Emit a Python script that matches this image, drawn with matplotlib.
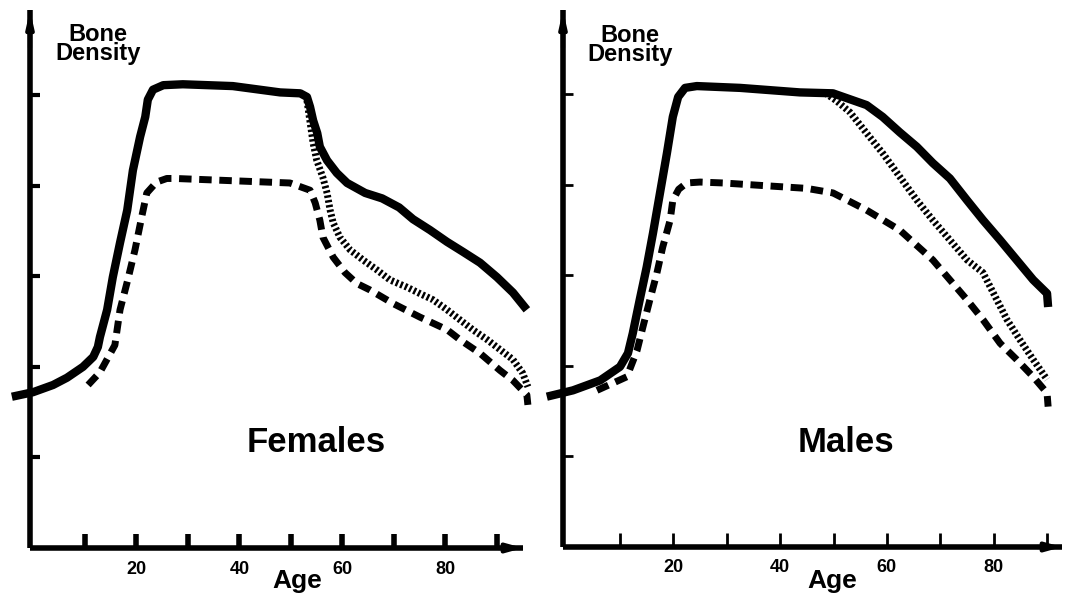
import matplotlib
matplotlib.use('Agg')
import matplotlib.pyplot as plt

plt.rcParams['font.family'] = ['Liberation Sans', 'DejaVu Sans']

# ---------------- data (age in years, bone density in tick units) ----------------
tick_ages = [10, 20, 30, 40, 50, 60, 70, 80, 90]
tick_labels = ['', '20', '', '40', '', '60', '', '80', '']
density_ticks = [1, 2, 3, 4, 5]

# Females
f_solid_age = [-4.2, -0.1, 3.8, 6.5, 9.6, 11.6, 12.5, 12.9, 14.3, 15.4, 16.8, 18.2,
               19.3, 20.7, 21.7, 22.2, 23.2, 25.2, 29.0, 38.7, 47.9, 51.8, 53.1, 53.7,
               54.3, 55.1, 55.6, 57.0, 58.9, 60.9, 64.4, 67.7, 71.0, 73.7, 77.0, 80.3,
               83.4, 86.7, 90.0, 93.1, 95.8]
f_solid_val = [1.67, 1.72, 1.80, 1.88, 2.00, 2.11, 2.22, 2.33, 2.63, 2.99, 3.37, 3.73,
               4.17, 4.54, 4.76, 4.95, 5.06, 5.11, 5.12, 5.10, 5.03, 5.02, 4.98, 4.87,
               4.72, 4.58, 4.43, 4.28, 4.14, 4.03, 3.92, 3.86, 3.76, 3.63, 3.51, 3.38,
               3.27, 3.15, 2.99, 2.82, 2.63]

f_dash_age = [10.6, 12.9, 15.8, 16.8, 18.3, 19.7, 21.1, 22.0, 23.9, 25.9, 27.5, 49.8,
              53.7, 54.7, 55.6, 56.2, 58.2, 60.5, 62.8, 65.3, 69.8, 75.0, 80.3, 82.8,
              86.7, 90.6, 93.1, 95.8, 96.0]
f_dash_val = [1.80, 1.94, 2.24, 2.63, 2.96, 3.29, 3.68, 3.92, 4.04, 4.08, 4.08, 4.03,
              3.95, 3.81, 3.62, 3.43, 3.21, 3.04, 2.92, 2.85, 2.70, 2.55, 2.41, 2.30,
              2.15, 1.96, 1.85, 1.69, 1.58]

f_dot_age = [53.1, 54.3, 55.0, 56.2, 57.0, 57.6, 58.2, 59.5, 61.5, 64.0, 66.7, 69.2,
             72.5, 75.0, 77.6, 80.3, 82.8, 85.3, 88.1, 90.6, 93.1, 95.0, 96.0]
f_dot_val = [4.94, 4.47, 4.28, 4.09, 3.92, 3.73, 3.59, 3.43, 3.29, 3.18, 3.07, 2.96,
             2.88, 2.81, 2.74, 2.63, 2.52, 2.41, 2.30, 2.19, 2.08, 1.93, 1.78]

# Males
m_solid_age = [-3.7, 1.2, 6.3, 10.0, 11.5, 12.4, 13.7, 15.0, 16.2, 17.5, 18.8, 19.9,
               20.9, 22.2, 24.4, 32.5, 43.7, 49.9, 56.2, 59.2, 62.4, 65.6, 68.6, 71.8,
               75.0, 78.0, 81.2, 84.3, 87.4, 90.0, 90.2]
m_solid_val = [1.66, 1.73, 1.84, 1.99, 2.14, 2.36, 2.73, 3.09, 3.47, 3.91, 4.35, 4.75,
               4.97, 5.07, 5.09, 5.07, 5.02, 5.01, 4.88, 4.75, 4.58, 4.42, 4.24, 4.07,
               3.83, 3.61, 3.39, 3.17, 2.95, 2.80, 2.65]

m_dash_age = [5.7, 11.3, 13.2, 14.3, 15.6, 16.9, 18.0, 19.4, 19.9, 21.0, 22.5, 25.0,
              29.3, 45.0, 49.9, 56.2, 62.4, 68.6, 71.8, 75.0, 78.0, 81.2, 84.3, 87.4,
              90.0, 90.2]
m_dash_val = [1.73, 1.88, 2.17, 2.43, 2.73, 3.02, 3.31, 3.61, 3.83, 3.95, 4.02, 4.03,
              4.02, 3.96, 3.91, 3.72, 3.50, 3.17, 2.95, 2.73, 2.51, 2.25, 2.07, 1.88,
              1.70, 1.55]

m_dot_age = [48.5, 50.5, 53.1, 56.2, 59.2, 62.4, 65.6, 68.6, 71.8, 75.0, 78.0, 79.9,
             82.5, 84.9, 87.4, 90.0]
m_dot_val = [5.01, 4.93, 4.80, 4.57, 4.35, 4.09, 3.83, 3.61, 3.39, 3.17, 3.03, 2.81,
             2.51, 2.29, 2.07, 1.85]

panels = [
    dict(name='Females', solid=(f_solid_age, f_solid_val), dash=(f_dash_age, f_dash_val),
         dot=(f_dot_age, f_dot_val)),
    dict(name='Males', solid=(m_solid_age, m_solid_val), dash=(m_dash_age, m_dash_val),
         dot=(m_dot_age, m_dot_val)),
]

# ---------------- layout ----------------
W, H = 1077, 596
fig = plt.figure(figsize=(W / 100, H / 100), dpi=100)
fig.patch.set_facecolor('white')

geo = [
    dict(l=30, b=548, r=523, t=10, xlim=(-0.68, 95.05), ylim=(0, 5.94),
         tick_w=4, ytick_w=3, bd=(98, 44), name_xy=(316, 443), age_xy=(297, 581)),
    dict(l=563, b=547, r=1062, t=10, xlim=(-0.67, 92.8), ylim=(0, 5.93),
         tick_w=2, ytick_w=2, bd=(630, 45), name_xy=(846, 443), age_xy=(832, 581)),
]

for p, g in zip(panels, geo):
    ax = fig.add_axes([g['l'] / W, (H - g['b']) / H, (g['r'] - g['l']) / W,
                       (g['b'] - g['t']) / H])
    ax.set_facecolor('none')
    ax.set_xlim(*g['xlim'])
    ax.set_ylim(*g['ylim'])
    for s in ('top', 'right'):
        ax.spines[s].set_visible(False)
    for s in ('left', 'bottom'):
        ax.spines[s].set_linewidth(4)
        ax.spines[s].set_capstyle('butt')

    ax.set_xticks(tick_ages)
    ax.set_xticklabels(tick_labels, fontsize=13, fontweight='bold')
    ax.set_yticks(density_ticks)
    ax.set_yticklabels([])
    ax.tick_params(axis='x', direction='in', length=10, width=g['tick_w'], pad=9)
    ax.tick_params(axis='y', direction='in', length=7, width=g['ytick_w'])

    # arrow heads
    ax.annotate('', xy=(0, 1.0), xytext=(0, 0.93), xycoords='axes fraction',
                arrowprops=dict(arrowstyle='-|>,head_length=0.9,head_width=0.2',
                                color='black', lw=3, shrinkA=0, shrinkB=0))
    ax.annotate('', xy=(1.0, 0), xytext=(0.95, 0), xycoords='axes fraction',
                arrowprops=dict(arrowstyle='-|>,head_length=0.9,head_width=0.25',
                                color='black', lw=3, shrinkA=0, shrinkB=0))

    # curves
    ax.plot(*p['dash'], color='black', lw=5, linestyle=(0, (1.8, 1.1)),
            dash_capstyle='butt', dash_joinstyle='round', clip_on=False, zorder=3)
    ax.plot(*p['dot'], color='black', lw=5, linestyle=(0, (0.35, 0.35)),
            dash_capstyle='butt', dash_joinstyle='round', clip_on=False, zorder=3)
    ax.plot(*p['solid'], color='black', lw=6, solid_joinstyle='round',
            solid_capstyle='butt', clip_on=False, zorder=4)

    # texts
    fig.text(g['bd'][0] / W, 1 - g['bd'][1] / H, 'Bone\nDensity', ha='center',
             va='center', fontsize=17, fontweight='bold', linespacing=0.75)
    fig.text(g['name_xy'][0] / W, 1 - g['name_xy'][1] / H, p['name'], ha='center',
             va='center', fontsize=25, fontweight='bold')
    fig.text(g['age_xy'][0] / W, 1 - g['age_xy'][1] / H, 'Age', ha='center',
             va='center', fontsize=19, fontweight='bold')

fig.savefig('out.png', dpi=100, facecolor='white')
